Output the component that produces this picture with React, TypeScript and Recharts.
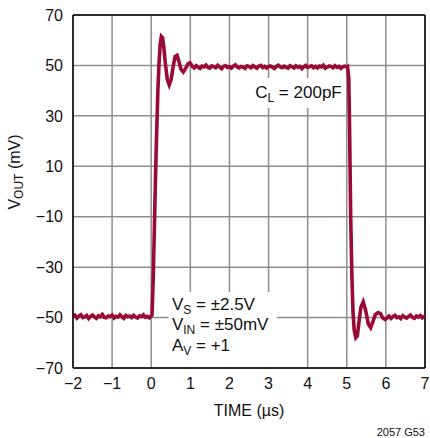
import React from 'react';
import {
  LineChart,
  Line,
  XAxis,
  YAxis,
  CartesianGrid,
  ReferenceArea,
  ReferenceLine
} from 'recharts';

// scope trace: [time (us), Vout (mV)]
const preStep: [number, number][] = [
  [-2, -49.6], [-1.95, -49.1], [-1.9, -50.2], [-1.85, -49.4], [-1.8, -48.9], [-1.75, -50.0],
  [-1.7, -49.7], [-1.65, -49.2], [-1.6, -50.4], [-1.55, -49.5], [-1.5, -49.0], [-1.45, -49.8],
  [-1.4, -50.3], [-1.35, -49.3], [-1.3, -49.7], [-1.25, -48.8], [-1.2, -49.9], [-1.15, -50.1],
  [-1.1, -49.4], [-1.05, -49.6], [-1, -49.0], [-0.95, -50.2], [-0.9, -49.5], [-0.85, -49.8],
  [-0.8, -48.9], [-0.75, -49.6], [-0.7, -50.3], [-0.65, -49.2], [-0.6, -49.7], [-0.55, -49.4],
  [-0.5, -50.0], [-0.45, -49.1], [-0.4, -49.8], [-0.35, -50.2], [-0.3, -49.3], [-0.25, -49.6],
  [-0.2, -48.9], [-0.15, -49.9], [-0.1, -49.5], [-0.05, -50.1], [0, -49.4]
];

const riseEdge: [number, number][] = [
  [0.02, -49], [0.05, -35], [0.08, -15], [0.11, 6], [0.14, 24], [0.17, 40], [0.2, 51],
  [0.23, 58.5], [0.26, 61.5], [0.29, 61], [0.32, 57.5], [0.36, 51], [0.41, 44.5], [0.46, 42.3],
  [0.51, 44.5], [0.56, 49.5], [0.61, 53.5], [0.66, 54], [0.71, 51.5], [0.76, 48.5],
  [0.82, 47.4], [0.88, 48.8], [0.94, 50.6], [0.99, 51], [1.03, 50.2]
];

const plateau: [number, number][] = [
  [1.05, 49.6], [1.1, 49.0], [1.15, 49.9], [1.2, 49.3], [1.25, 48.8], [1.3, 49.7], [1.35, 49.4],
  [1.4, 50.1], [1.45, 49.2], [1.5, 48.9], [1.55, 49.8], [1.6, 49.5], [1.65, 49.1], [1.7, 50.0],
  [1.75, 49.3], [1.8, 48.7], [1.85, 49.6], [1.9, 49.9], [1.95, 49.2], [2, 49.5], [2.05, 48.9],
  [2.1, 49.7], [2.15, 50.2], [2.2, 49.4], [2.25, 49.0], [2.3, 49.6], [2.35, 49.3], [2.4, 48.8],
  [2.45, 49.8], [2.5, 49.5], [2.55, 49.1], [2.6, 49.9], [2.65, 49.4], [2.7, 48.9], [2.75, 49.7],
  [2.8, 50.0], [2.85, 49.2], [2.9, 49.6], [2.95, 49.0], [3, 49.5], [3.05, 49.8], [3.1, 49.3],
  [3.15, 48.8], [3.2, 49.6], [3.25, 50.1], [3.3, 49.4], [3.35, 49.1], [3.4, 49.7], [3.45, 49.2],
  [3.5, 48.9], [3.55, 49.9], [3.6, 49.5], [3.65, 49.0], [3.7, 49.8], [3.75, 49.3], [3.8, 49.6],
  [3.85, 48.7], [3.9, 49.4], [3.95, 50.0], [4, 49.2], [4.05, 49.5], [4.1, 49.8], [4.15, 49.1],
  [4.2, 49.6], [4.25, 49.0], [4.3, 49.7], [4.35, 49.4], [4.4, 50.1], [4.45, 48.9], [4.5, 49.3],
  [4.55, 49.8], [4.6, 49.5], [4.65, 49.1], [4.7, 49.9], [4.75, 49.2], [4.8, 49.6], [4.85, 48.8],
  [4.9, 49.4], [4.95, 49.7], [5, 49.3]
];

const fallEdge: [number, number][] = [
  [5.02, 49.5], [5.05, 45], [5.07, 27], [5.1, -10], [5.13, -33], [5.16, -48], [5.19, -55],
  [5.23, -58], [5.27, -57.3], [5.31, -52], [5.36, -46], [5.42, -43.8], [5.48, -47], [5.55, -52.5],
  [5.61, -54], [5.67, -51.5], [5.73, -48.8], [5.8, -48], [5.86, -48.4], [5.92, -50.2], [5.98, -50.8]
];

const postStep: [number, number][] = [
  [6.03, -50.1], [6.08, -49.4], [6.13, -50.3], [6.18, -49.6], [6.23, -49.1], [6.28, -50.0],
  [6.33, -49.7], [6.38, -50.4], [6.43, -49.3], [6.48, -49.8], [6.53, -50.2], [6.58, -49.5],
  [6.63, -49.0], [6.68, -49.9], [6.73, -50.3], [6.78, -49.4], [6.83, -49.8], [6.88, -49.2],
  [6.93, -50.1], [6.98, -49.6], [7, -49.7]
];

const timeTicks = [-2, -1, 0, 1, 2, 3, 4, 5, 6, 7];
const voutTicks = [-70, -50, -30, -10, 10, 30, 50, 70];

const trace = [...preStep, ...riseEdge, ...plateau, ...fallEdge, ...postStep].map(([t, v]) => ({ t, v }));

const FONT = "'Liberation Sans', Arial, sans-serif";
const TRACE_COLOR = '#990a36';
const GRID_COLOR = '#8e8e8e';

const minus = (n: number) => String(n).replace('-', '\u2212');

const XLabel = () => (
  <g fontFamily={FONT} fill="#111">
    <text x={249} y={416} fontSize={16} textAnchor="middle">TIME (µs)</text>
    <text x={425} y={436} fontSize={11} textAnchor="end">2057 G53</text>
  </g>
);

const YLabel = () => (
  <text
    x={0}
    y={0}
    transform="translate(20, 172) rotate(-90)"
    fontFamily={FONT}
    fontSize={16}
    fill="#111"
    textAnchor="middle"
  >
    <tspan>V</tspan>
    <tspan fontSize={12} dy={3}>OUT</tspan>
    <tspan dy={-3}> (mV)</tspan>
  </text>
);

// white box with the load note
const LoadNote = ({ viewBox }: any) => {
  const { x, y } = viewBox;
  return (
    <text x={x + 5} y={y + 19.5} fontFamily={FONT} fontSize={17} fill="#111">
      <tspan>C</tspan>
      <tspan fontSize={12} dy={4}>L</tspan>
      <tspan dy={-4}> = 200pF</tspan>
    </text>
  );
};

const ConditionsNote = ({ viewBox }: any) => {
  const { x, y } = viewBox;
  const lines = [
    ['V', 'S', ' = ±2.5V'],
    ['V', 'IN', ' = ±50mV'],
    ['A', 'V', ' = +1']
  ];
  return (
    <g fontFamily={FONT} fontSize={17} fill="#111">
      {lines.map(([a, sub, rest], i) => (
        <text key={i} x={x + 3.5} y={y + 17.5 + i * 20.7}>
          <tspan>{a}</tspan>
          <tspan fontSize={12} dy={4}>{sub}</tspan>
          <tspan dy={-4}>{rest}</tspan>
        </text>
      ))}
    </g>
  );
};

const App = () => {
  return (
    <div style={{ position: 'absolute', left: 0, top: 0, background: '#fff' }}>
      <LineChart
        width={430}
        height={438}
        data={trace}
        margin={{ top: 15, right: 5, bottom: 0, left: 0 }}
      >
        <CartesianGrid stroke={GRID_COLOR} strokeWidth={1.5} />

        <ReferenceArea x1={2.53} x2={4.92} y1={33.1} y2={45} fill="#fff" fillOpacity={1} stroke="none" label={<LoadNote />} />
        <ReferenceArea x1={0.44} x2={3.21} y1={-69.6} y2={-39.9} fill="#fff" fillOpacity={1} stroke="none" label={<ConditionsNote />} />

        <ReferenceLine y={70} stroke="#000" strokeWidth={1.5} />
        <ReferenceLine x={7} stroke="#000" strokeWidth={1.5} />

        <XAxis
          dataKey="t"
          type="number"
          domain={[-2, 7]}
          ticks={timeTicks}
          tickFormatter={minus}
          allowDataOverflow
          height={70}
          stroke="#000"
          strokeWidth={1.5}
          tickLine={false}
          tickSize={6}
          tickMargin={4}
          tick={{ fill: '#111', fontSize: 16, fontFamily: FONT }}
          label={<XLabel />}
        />
        <YAxis
          type="number"
          domain={[-70, 70]}
          ticks={voutTicks}
          tickFormatter={minus}
          allowDataOverflow
          width={73}
          stroke="#000"
          strokeWidth={1.5}
          tickLine={false}
          tickSize={6}
          tickMargin={4}
          tick={{ fill: '#111', fontSize: 16, fontFamily: FONT }}
          label={<YLabel />}
        />

        <Line
          type="linear"
          dataKey="v"
          stroke={TRACE_COLOR}
          strokeWidth={3.6}
          dot={false}
          isAnimationActive={false}
        />
      </LineChart>
    </div>
  );
};

export default App;
